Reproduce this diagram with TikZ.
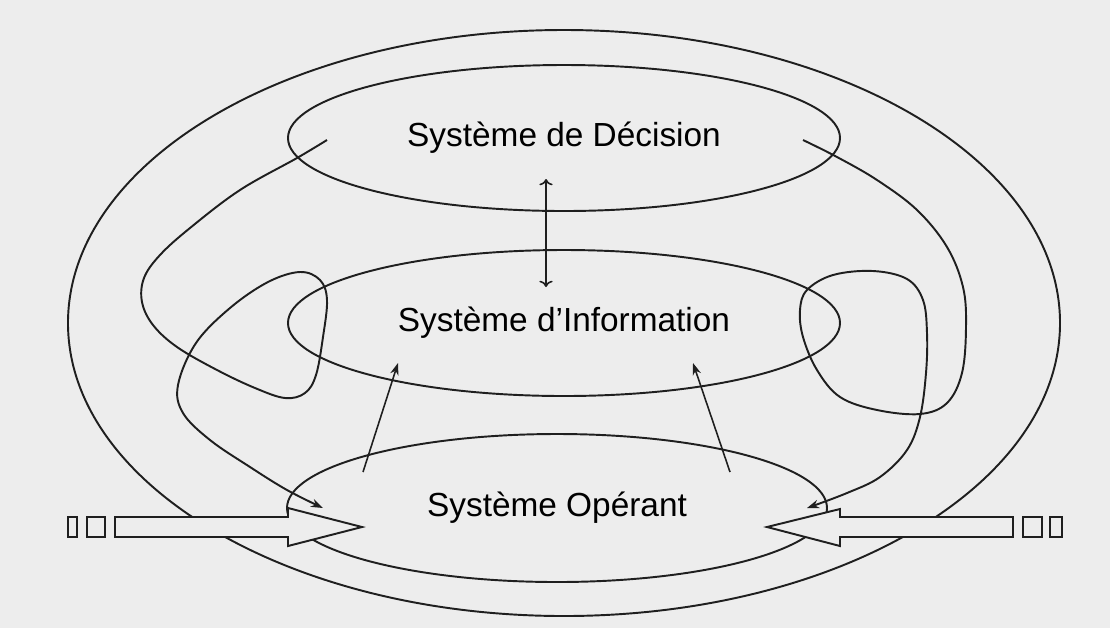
\documentclass[tikz,border=0pt]{standalone}
\usepackage{fontspec}
\setmainfont{Liberation Sans}
\usepackage{tikz}
\usetikzlibrary{shapes.geometric, arrows.meta, positioning, calc}
\definecolor{paper}{gray}{0.93}
\definecolor{ink}{gray}{0.12}

\begin{document}
\begin{tikzpicture}[
    x=0.2mm, y=-0.2mm,
    sys/.style={ellipse, draw=ink, line width=1.1pt, inner sep=0pt, outer sep=0pt, minimum width=#1, minimum height=29.2mm, font=\fontsize{19}{22}\selectfont},
    link/.style={-{Stealth[length=2.4mm,width=1.7mm]}, draw=ink, line width=0.9pt},
    loopline/.style={link, line width=1.1pt},
    feed/.style={draw=ink, line width=1.1pt, fill=paper, line join=miter},
]
\fill[paper] (0,0) rectangle (1110,628);
\useasboundingbox (0,0) rectangle (1110,628);

% enveloppe
\draw[ink, line width=1.1pt] (564,323) ellipse [x radius=99.2mm, y radius=58.6mm];

\node[sys=110.4mm] (dec) at (564,138) {Système de Décision};
\node[sys=110.4mm] (info) at (564,323) {Système d’Information};
\node[sys=108mm, minimum height=29.6mm] (opr) at (557,508) {Système Opérant};

% liaisons internes
\draw[link, <->] ($(dec)+(-18,41)$) -- ($(info)+(-18,-36)$);
\draw[link] ($(opr)+(-194,-36)$) -- ($(info)+(-166,40)$);
\draw[link] ($(opr)+(173,-36)$) -- ($(info)+(129,40)$);

% boucles
\coordinate (ls) at ($(dec)+(-237,2)$);
\coordinate (le) at ($(opr)+(-234,0)$);
\coordinate (rs) at ($(dec)+(239,2)$);
\coordinate (re) at ($(opr)+(250,0)$);
\draw[loopline] plot[smooth, tension=0.6] coordinates {(ls) (297,158) (240,190) (190,228) (160,255) (144,278) (142,302) (153,325) (177,347) (217,370) (255,388) (285,398) (305,393) (316,375) (323,337) (327,300) (320,280) (300,272) (268,282) (230,308) (196,343) (178,385) (183,413) (210,440) (250,467) (287,490) (le)};
\draw[loopline] plot[smooth, tension=0.6] coordinates {(rs) (837,157) (877,180) (917,210) (947,247) (963,287) (966,327) (962,373) (947,403) (920,414) (877,410) (840,397) (817,370) (803,337) (800,310) (807,290) (833,275) (873,271) (907,279) (923,300) (927,333) (926,373) (920,417) (907,450) (880,477) (847,493) (re)};

% flux entrants
\draw[feed] (115,517) -- (288,517) -- (288,508) -- (362,527) -- (288,546) -- (288,537) -- (115,537) -- cycle;
\draw[feed] (1013,517) -- (840,517) -- (840,509) -- (767,527) -- (840,546) -- (840,537) -- (1013,537) -- cycle;
\draw[feed, line width=0.9pt] (68,517) rectangle (77,537) (87,517) rectangle (105,537);
\draw[feed, line width=0.9pt] (1023,517) rectangle (1042,537) (1050,517) rectangle (1062,537);
\end{tikzpicture}
\end{document}
